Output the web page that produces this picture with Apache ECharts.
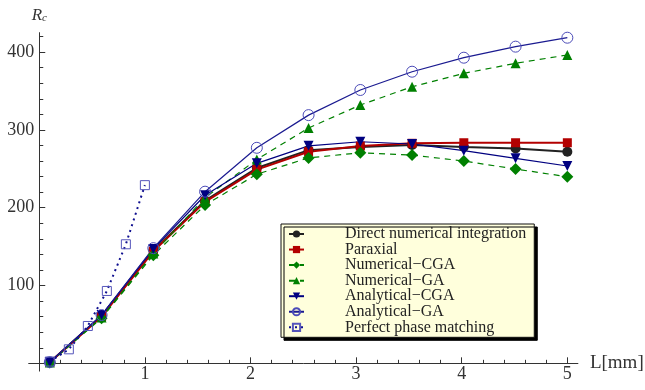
<!DOCTYPE html>
<html>
<head>
<meta charset="utf-8">
<script src="https://cdn.jsdelivr.net/npm/echarts@6/dist/echarts.min.js"></script>
<style>
html,body{margin:0;padding:0;background:#fff;}
#chart{width:645px;height:390px;}
</style>
</head>
<body>
<div id="chart"></div>
<script>
// ---- data ----
const L = [0.1, 0.59, 1.08, 1.57, 2.06, 2.55, 3.04, 3.53, 4.02, 4.51, 5.0];
const directIntegration = [1.5, 61, 145, 209, 251, 274, 278, 280.6, 278, 276, 272];
const paraxial          = [1.5, 60, 144, 207.5, 249, 272, 279.3, 282.8, 283.5, 283.5, 283.5];
const numericalCGA      = [1, 58, 139, 203.5, 243, 264, 270.7, 267.7, 260, 249.7, 239.8];
const numericalGA       = [1, 59, 141, 213, 262, 302.5, 332, 355.5, 372.7, 385.6, 396.3];
const analyticalCGA     = [1.5, 62, 147, 216, 257, 279.5, 284.8, 281.9, 273.3, 263.5, 253.6];
const analyticalGA      = [1.5, 62, 148, 220.6, 277, 319, 351.3, 374.8, 392.8, 407, 418.5];
const Lppm = [0.1, 0.28, 0.46, 0.64, 0.82, 1.0];
const perfectPhase = [2.3, 18, 48, 93, 153, 229];

const seriesNames = ['Direct numerical integration', 'Paraxial', 'Numerical\u2212CGA',
  'Numerical\u2212GA', 'Analytical\u2212CGA', 'Analytical\u2212GA', 'Perfect phase matching'];

const xTickLabels = [1, 2, 3, 4, 5];
const xMinorTicks = [0.2, 0.4, 0.6, 0.8, 1.2, 1.4, 1.6, 1.8, 2.2, 2.4, 2.6, 2.8,
  3.2, 3.4, 3.6, 3.8, 4.2, 4.4, 4.6, 4.8];
const yTickLabels = [100, 200, 300, 400];
const yMinorTicks = [20, 40, 60, 80, 120, 140, 160, 180, 220, 240, 260, 280,
  320, 340, 360, 380, 420];

const pair = (xs, ys) => xs.map((x, i) => [x, ys[i]]);

const FONT = 'Liberation Serif';
const AX = '#333';

// plot range (axes drawn through the origin, slightly inside the range)
const X_MIN = -0.1, X_MAX = 5.1, Y_MIN = -10, Y_MAX = 425;
const GRID = {left: 28.7, right: 67.1, top: 32.65, bottom: 18.9};
const plotW = 645 - GRID.left - GRID.right;
const plotH = 390 - GRID.top - GRID.bottom;
// shift the axis lines from the grid edge to the zero value
const yAxisShift = -(0 - X_MIN) / (X_MAX - X_MIN) * plotW;
const xAxisShift = -(0 - Y_MIN) / (Y_MAX - Y_MIN) * plotH;

const chart = echarts.init(document.getElementById('chart'), null, {renderer: 'canvas'});

function lineSeries(name, xs, ys, o) {
  return Object.assign({
    name: name,
    type: 'line',
    data: pair(xs, ys),
    xAxisIndex: 0,
    yAxisIndex: 0,
    showSymbol: true,
    clip: false,
    animation: false,
    emphasis: {disabled: true}
  }, o);
}

const option = {
  backgroundColor: '#fff',
  animation: false,
  grid: Object.assign({containLabel: false, outerBoundsMode: 'none'}, GRID),
  legend: {
    data: seriesNames,
    orient: 'vertical',
    left: 281,
    top: 224,
    padding: [2, 8, 2, 7],
    itemGap: -0.45,
    itemWidth: 15,
    itemHeight: 9,
    backgroundColor: '#ffffdc',
    borderColor: '#111',
    borderWidth: 1,
    borderRadius: 0,
    shadowColor: '#000',
    shadowBlur: 0,
    shadowOffsetX: 3,
    shadowOffsetY: 3,
    selectedMode: false,
    textStyle: {fontFamily: FONT, fontSize: 16, color: '#222', lineHeight: 14, padding: [0, 0, 0, 36]}
  },
  xAxis: [{
    type: 'value', min: X_MIN, max: X_MAX, position: 'bottom', offset: xAxisShift,
    name: 'L[mm]', nameLocation: 'end', nameGap: 12,
    nameTextStyle: {fontFamily: FONT, fontSize: 19, color: AX, verticalAlign: 'middle', align: 'left'},
    axisLine: {show: true, onZero: false, lineStyle: {color: AX, width: 1}},
    axisTick: {show: true, inside: true, length: 6, customValues: xTickLabels, lineStyle: {color: AX}},
    axisLabel: {show: true, customValues: xTickLabels, fontFamily: FONT, fontSize: 18, color: AX, margin: 2},
    splitLine: {show: false}
  }, {
    type: 'value', min: X_MIN, max: X_MAX, position: 'bottom', offset: xAxisShift,
    axisLine: {show: false, onZero: false},
    axisTick: {show: true, inside: true, length: 3.5, customValues: xMinorTicks, lineStyle: {color: AX}},
    axisLabel: {show: false},
    splitLine: {show: false}
  }],
  yAxis: [{
    type: 'value', min: Y_MIN, max: Y_MAX, position: 'left', offset: yAxisShift,
    name: '{r|R}{s|c}', nameLocation: 'end', nameGap: 9,
    nameTextStyle: {
      align: 'center',
      rich: {
        r: {fontFamily: FONT, fontStyle: 'italic', fontSize: 17, color: AX, verticalAlign: 'bottom'},
        s: {fontFamily: FONT, fontStyle: 'italic', fontSize: 11, color: AX, verticalAlign: 'bottom'}
      }
    },
    axisLine: {show: true, onZero: false, lineStyle: {color: AX, width: 1}},
    axisTick: {show: true, inside: true, length: 6, customValues: yTickLabels, lineStyle: {color: AX}},
    axisLabel: {show: true, customValues: yTickLabels, fontFamily: FONT, fontSize: 18, color: AX, margin: 5},
    splitLine: {show: false}
  }, {
    type: 'value', min: Y_MIN, max: Y_MAX, position: 'left', offset: yAxisShift,
    axisLine: {show: false, onZero: false},
    axisTick: {show: true, inside: true, length: 4, customValues: yMinorTicks, lineStyle: {color: AX}},
    axisLabel: {show: false},
    splitLine: {show: false}
  }],
  series: [
    lineSeries(seriesNames[0], L, directIntegration, {
      symbol: 'circle', symbolSize: 10,
      itemStyle: {color: '#222'},
      lineStyle: {color: '#222', width: 2}
    }),
    lineSeries(seriesNames[1], L, paraxial, {
      symbol: 'rect', symbolSize: 9,
      itemStyle: {color: '#b30000'},
      lineStyle: {color: '#b30000', width: 2}
    }),
    lineSeries(seriesNames[2], L, numericalCGA, {
      symbol: 'diamond', symbolSize: 12,
      itemStyle: {color: '#008000'},
      lineStyle: {color: '#008000', width: 1.2, type: [6, 5]}
    }),
    lineSeries(seriesNames[3], L, numericalGA, {
      symbol: 'triangle', symbolSize: 10,
      itemStyle: {color: '#008000'},
      lineStyle: {color: '#008000', width: 1.2, type: [6, 5]}
    }),
    lineSeries(seriesNames[4], L, analyticalCGA, {
      symbol: 'triangle', symbolSize: 10, symbolRotate: 180,
      itemStyle: {color: '#000080'},
      lineStyle: {color: '#000080', width: 1.2}
    }),
    lineSeries(seriesNames[5], L, analyticalGA, {
      symbol: 'circle', symbolSize: 11,
      itemStyle: {color: 'rgba(0,0,0,0)', borderColor: '#4b4bb8', borderWidth: 1},
      lineStyle: {color: '#1a1a90', width: 1.2}
    }),
    lineSeries(seriesNames[6], Lppm, perfectPhase, {
      symbol: 'rect', symbolSize: 9,
      itemStyle: {color: 'rgba(0,0,0,0)', borderColor: '#5555bb', borderWidth: 1},
      lineStyle: {color: '#101090', width: 2, type: [2, 4]}
    })
  ]
};
chart.setOption(option);
</script>
</body>
</html>
